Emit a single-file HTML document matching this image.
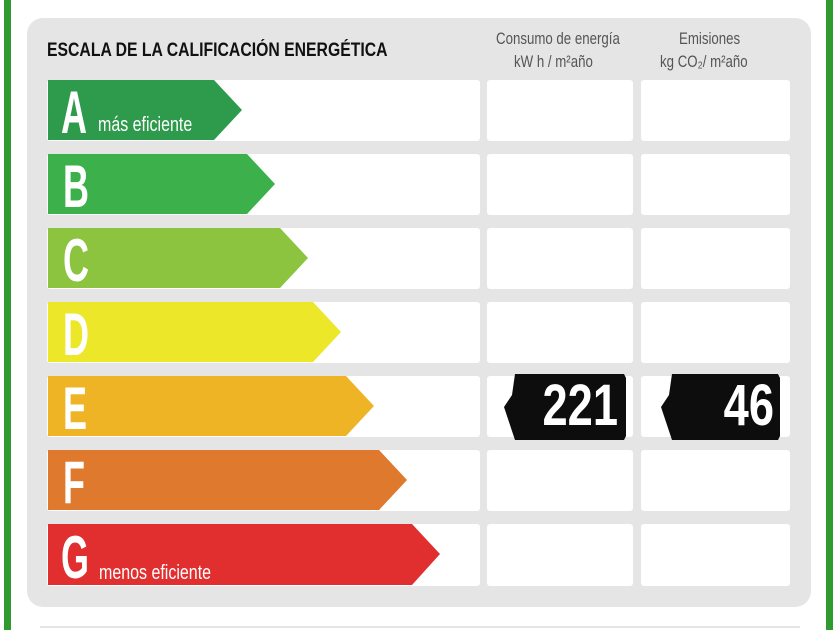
<!DOCTYPE html>
<html><head><meta charset="utf-8"><style>
body{margin:0;width:840px;height:630px;background:#fff;position:relative;overflow:hidden;font-family:"Liberation Sans",sans-serif}
.b{position:absolute;background:#2f9a2f}
.panel{position:absolute;left:27px;top:18px;width:784px;height:589px;background:#e5e5e5;border-radius:16px}
.t{position:absolute;white-space:nowrap;transform-origin:0 0}
</style></head><body>
<div class="b" style="left:4px;top:0;width:7px;height:630px"></div>
<div class="b" style="left:826px;top:0;width:7px;height:630px"></div>
<div class="panel"></div>
<div class="t" style="left:47px;top:40px;font-size:19px;font-weight:bold;color:#111;transform:scaleX(0.83)">ESCALA DE LA CALIFICACIÓN ENERGÉTICA</div>
<div class="t" style="left:496px;top:29px;font-size:17px;color:#555;transform:scaleX(0.78)">Consumo de energía</div>
<div class="t" style="left:514px;top:52px;font-size:17px;color:#555;transform:scaleX(0.78)">kW h / m²año</div>
<div class="t" style="left:679px;top:29px;font-size:17px;color:#555;transform:scaleX(0.78)">Emisiones</div>
<div class="t" style="left:660px;top:52px;font-size:17px;color:#555;transform:scaleX(0.78)">kg CO₂/ m²año</div>
<svg width="840" height="630" style="position:absolute;left:0;top:0">
<g fill="#fff">
<rect x="47" y="80" width="433" height="61" rx="3"/><rect x="487" y="80" width="146" height="61" rx="3"/><rect x="641" y="80" width="149" height="61" rx="3"/>
<rect x="47" y="154" width="433" height="61" rx="3"/><rect x="487" y="154" width="146" height="61" rx="3"/><rect x="641" y="154" width="149" height="61" rx="3"/>
<rect x="47" y="228" width="433" height="61" rx="3"/><rect x="487" y="228" width="146" height="61" rx="3"/><rect x="641" y="228" width="149" height="61" rx="3"/>
<rect x="47" y="302" width="433" height="61" rx="3"/><rect x="487" y="302" width="146" height="61" rx="3"/><rect x="641" y="302" width="149" height="61" rx="3"/>
<rect x="47" y="376" width="433" height="61" rx="3"/><rect x="487" y="376" width="146" height="61" rx="3"/><rect x="641" y="376" width="149" height="61" rx="3"/>
<rect x="47" y="450" width="433" height="61" rx="3"/><rect x="487" y="450" width="146" height="61" rx="3"/><rect x="641" y="450" width="149" height="61" rx="3"/>
<rect x="47" y="524" width="433" height="62" rx="3"/><rect x="487" y="524" width="146" height="62" rx="3"/><rect x="641" y="524" width="149" height="62" rx="3"/>
</g>
<polygon points="48,80 214,80 242,110 214,140 48,140" fill="#2e9a4b"/>
<polygon points="48,154 247,154 275,184 247,214 48,214" fill="#3bb04b"/>
<polygon points="48,228 280,228 308,258 280,288 48,288" fill="#8dc43f"/>
<polygon points="48,302 313,302 341,332 313,362 48,362" fill="#ede72a"/>
<polygon points="48,376 346,376 374,406 346,436 48,436" fill="#efb425"/>
<polygon points="48,450 379,450 407,480 379,510 48,510" fill="#df792d"/>
<polygon points="48,524 412,524 440,554 412,585 48,585" fill="#e12f2f"/>
<polygon points="515,374 624,374 626,378 626,436 624,440 515,440 504,407 512,395" fill="#0d0d0d"/>
<polygon points="672,374 778,374 780,378 780,436 778,440 672,440 661,407 669,395" fill="#0d0d0d"/>
<g fill="#fff" font-family="Liberation Sans" font-weight="bold" font-size="60">
<text x="61" y="133" transform="translate(61 0) scale(0.6 1) translate(-61 0)">A</text>
<text x="63" y="207" transform="translate(63 0) scale(0.6 1) translate(-63 0)">B</text>
<text x="63" y="281" transform="translate(63 0) scale(0.6 1) translate(-63 0)">C</text>
<text x="63" y="355" transform="translate(63 0) scale(0.6 1) translate(-63 0)">D</text>
<text x="63" y="429" transform="translate(63 0) scale(0.6 1) translate(-63 0)">E</text>
<text x="63" y="503" transform="translate(63 0) scale(0.6 1) translate(-63 0)">F</text>
<text x="61" y="578" transform="translate(61 0) scale(0.6 1) translate(-61 0)">G</text>
</g>
<g fill="#fff" font-family="Liberation Sans" font-size="20">
<text x="98" y="131" transform="translate(98 0) scale(0.8 1) translate(-98 0)">más eficiente</text>
<text x="99" y="579" transform="translate(99 0) scale(0.8 1) translate(-99 0)">menos eficiente</text>
</g>
<g fill="#fff" font-family="Liberation Sans" font-weight="bold" font-size="58">
<text x="618" y="425" text-anchor="end" transform="translate(618 0) scale(0.78 1) translate(-618 0)">221</text>
<text x="774" y="425" text-anchor="end" transform="translate(774 0) scale(0.78 1) translate(-774 0)">46</text>
</g>
<rect x="40" y="626" width="760" height="2" fill="#e5e5e5"/>
</svg>
</body></html>
